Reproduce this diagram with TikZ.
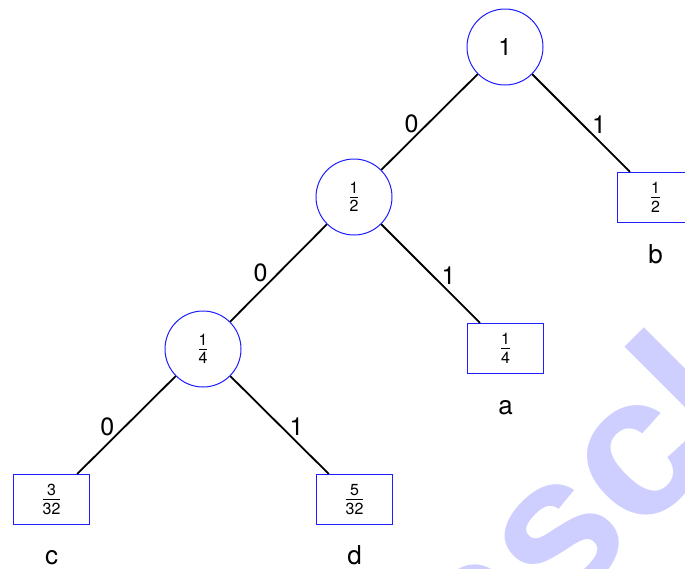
\documentclass[tikz,border=0pt]{standalone}
\usepackage{fontspec}
\setmainfont{TeX Gyre Heros}
\newfontfamily\wmfont{Liberation Sans}
\definecolor{wm}{RGB}{206,206,255}
\definecolor{nodeblue}{RGB}{30,30,255}
\newcommand\fr[2]{$\frac{\hbox{\fontsize{16}{18}\selectfont #1}}{\hbox{\fontsize{16}{18}\selectfont #2}}$}
\begin{document}
\begin{tikzpicture}[x=1pt,y=-1pt,
  innernode/.style={circle,draw=nodeblue,line width=1pt,minimum size=76pt,inner sep=0pt,font=\fontsize{24}{28}\selectfont},
  leaf/.style={rectangle,draw=nodeblue,line width=1.1pt,minimum width=76pt,minimum height=50pt,inner sep=0pt,font=\fontsize{25}{30}\selectfont},
  edge/.style={line width=1.8pt,black},
  elab/.style={font=\fontsize{25}{30}\selectfont,inner sep=0pt},
  leafname/.style={font=\fontsize{26}{30}\selectfont,anchor=base,inner sep=0pt}]
\useasboundingbox (0,0) rectangle (685,568);
\clip (0,0) rectangle (685,568);
\node[rotate=45,anchor=base west,text=wm,font=\wmfont\bfseries\fontsize{200}{200}\selectfont,inner sep=0pt] (wmark) at (481,696) {ascl};
\node[innernode] (root) at (505,47) {1};
\node[innernode] (half) at (354,197) {\fr{1}{2}};
\node[leaf] (leafb) at (655.5,197.5) {\fr{1}{2}};
\node[innernode] (quarter) at (203,349) {\fr{1}{4}};
\node[leaf] (leafa) at (505.5,348.5) {\fr{1}{4}};
\node[leaf] (leafc) at (51.5,499.5) {\fr{3}{32}};
\node[leaf] (leafd) at (354.5,499.5) {\fr{5}{32}};
\node[leafname] (namea) at ([yshift=-40pt]leafa.south) {a};
\node[leafname] (nameb) at ([yshift=-40pt]leafb.south) {b};
\node[leafname] (namec) at ([yshift=-39pt]leafc.south) {c};
\node[leafname] (named) at ([yshift=-39pt]leafd.south) {d};
\draw[edge] (root) -- node[elab,pos=.5,xshift=-18pt,yshift=-2pt]{0} (half);
\draw[edge] (root) -- node[elab,pos=.5,xshift=18pt,yshift=-2pt]{1} (leafb);
\draw[edge] (half) -- node[elab,pos=.5,xshift=-18pt,yshift=0pt]{0} (quarter);
\draw[edge] (half) -- node[elab,pos=.5,xshift=18pt,yshift=-2pt]{1} (leafa);
\draw[edge] (quarter) -- node[elab,pos=.5,xshift=-19pt,yshift=-2pt]{0} (leafc);
\draw[edge] (quarter) -- node[elab,pos=.5,xshift=17pt,yshift=-2pt]{1} (leafd);
\end{tikzpicture}
\end{document}
